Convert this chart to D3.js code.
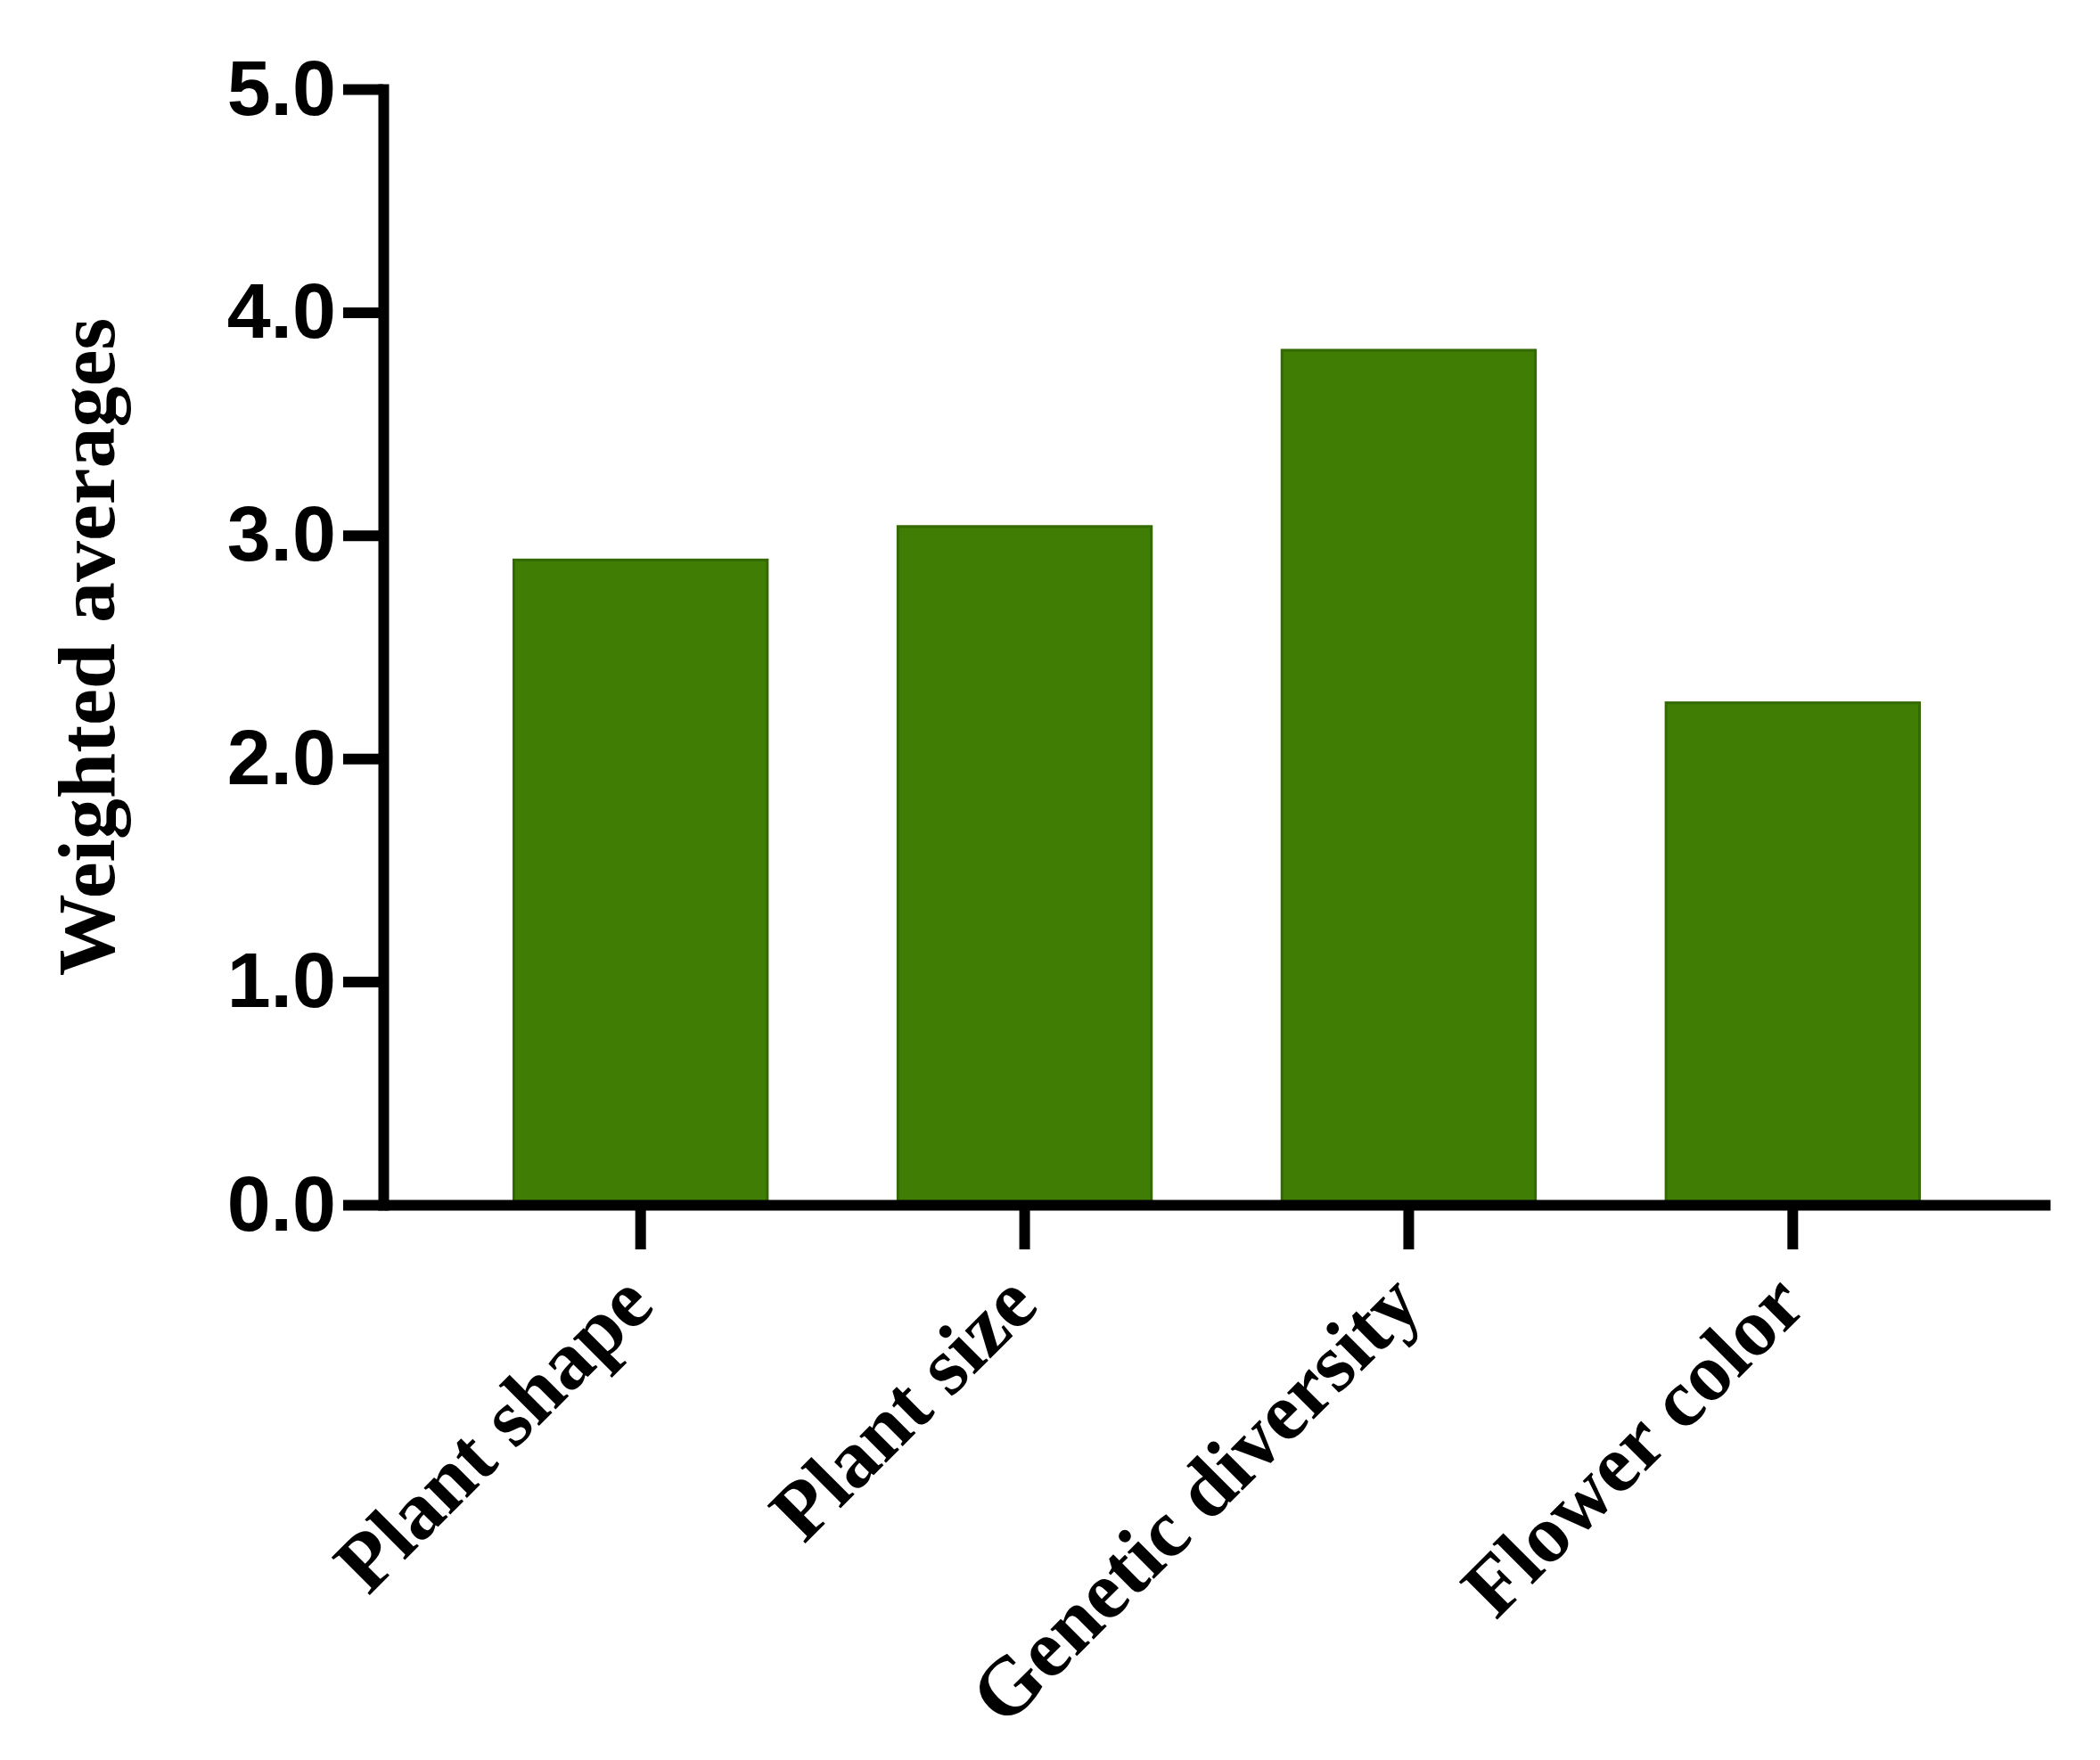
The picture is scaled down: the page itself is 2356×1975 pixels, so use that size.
<!DOCTYPE html>
<html>
<head>
<meta charset="utf-8">
<script src="https://cdn.jsdelivr.net/npm/d3@7"></script>
<style>
  html, body { margin: 0; padding: 0; background: #ffffff; }
  svg { display: block; }
</style>
</head>
<body>
<script>
const categories = ["Plant shape", "Plant size", "Genetic diversity", "Flower color"];
const values = [2.89, 3.04, 3.83, 2.25];
const yTicks = [0, 1, 2, 3, 4, 5];
const yLabel = "Weighted averages";

const W = 2356, H = 1975;
const axisX = 430, axisY = 1352, topY = 100, rightX = 2300;

const svg = d3.select("body").append("svg")
  .attr("width", W).attr("height", H)
  .style("background", "#ffffff");

const x = d3.scaleBand().domain(categories).range([axisX, rightX]).paddingInner(0.34).paddingOuter(0.34);
const y = d3.scaleLinear().domain([0, 5]).range([axisY, topY]);

// bars
svg.append("g").selectAll("rect").data(categories).join("rect")
  .attr("x", d => x(d))
  .attr("y", (d, i) => y(values[i]))
  .attr("width", x.bandwidth())
  .attr("height", (d, i) => axisY - y(values[i]))
  .attr("fill", "#3f7d05")
  .attr("stroke", "#336a02")
  .attr("stroke-width", 3);

// y axis
const yAxis = d3.axisLeft(y).tickValues(yTicks).tickFormat(d3.format(".1f"))
  .tickSize(45).tickSizeOuter(0).tickPadding(8);
const gy = svg.append("g").attr("transform", `translate(${axisX},0)`).call(yAxis);
gy.select(".domain").attr("stroke", "#000").attr("stroke-width", 12).attr("stroke-linecap", "square");
gy.selectAll(".tick line").attr("stroke", "#000").attr("stroke-width", 12);
gy.selectAll(".tick text")
  .attr("font-family", "'Liberation Sans', Arial, sans-serif")
  .attr("font-weight", "bold")
  .attr("font-size", 88)
  .attr("fill", "#000");

// x axis
const xAxis = d3.axisBottom(x).tickSize(50).tickSizeOuter(0).tickFormat("");
const gx = svg.append("g").attr("transform", `translate(0,${axisY})`).call(xAxis);
gx.select(".domain").attr("stroke", "#000").attr("stroke-width", 12);
gx.selectAll(".tick line").attr("stroke", "#000").attr("stroke-width", 12);

// x labels
svg.append("g").selectAll("text").data(categories).join("text")
  .attr("transform", d => `translate(${x(d) + x.bandwidth() / 2 + 18},${axisY + 116}) rotate(-45)`)
  .attr("text-anchor", "end")
  .attr("font-family", "'Liberation Serif', 'Times New Roman', serif")
  .attr("font-weight", "bold")
  .attr("font-size", 92)
  .attr("fill", "#000")
  .text(d => d);

// y label
svg.append("text")
  .attr("transform", `translate(128,${(axisY + topY) / 2}) rotate(-90)`)
  .attr("text-anchor", "middle")
  .attr("font-family", "'Liberation Serif', 'Times New Roman', serif")
  .attr("font-weight", "bold")
  .attr("font-size", 92)
  .attr("fill", "#000")
  .text(yLabel);
</script>
</body>
</html>
